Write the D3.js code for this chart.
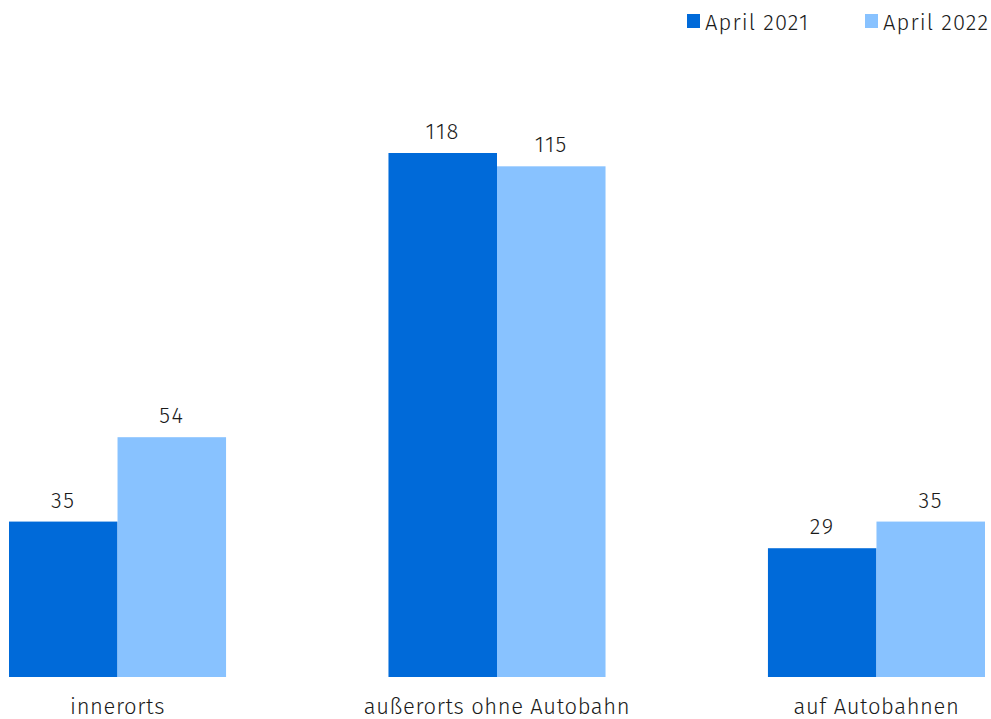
<!DOCTYPE html>
<html><head><meta charset="utf-8">
<script src="https://cdn.jsdelivr.net/npm/d3@7"></script>
<style>body{margin:0;background:#fff}svg{display:block}text{font-family:"Fira Sans","Noto Sans",sans-serif;fill:#1a1a1a;font-weight:300}</style>
</head><body>
<script>
const categories = ["innerorts", "außerorts ohne Autobahn", "auf Autobahnen"];
const seriesNames = ["April 2021", "April 2022"];
const values2021 = [35, 118, 29];
const values2022 = [54, 115, 35];
const colors = ["#006ad9", "#88c2ff"];

const W = 991, H = 719;
const svg = d3.select("body").append("svg").attr("width", W).attr("height", H);
const data = categories.map((c, i) => ({cat: c, vals: [values2021[i], values2022[i]]}));

const x0 = d3.scaleBand().domain(categories).range([9, 985]).paddingInner(0.428).paddingOuter(0);
const x1 = d3.scaleBand().domain(seriesNames).range([0, x0.bandwidth()]).padding(0);
const y = d3.scaleLinear().domain([0, 118]).range([677, 153]);

const FS = 22;
const g = svg.append("g");
const groups = g.selectAll("g.grp").data(data).enter().append("g")
  .attr("transform", d => `translate(${x0(d.cat)},0)`);
groups.selectAll("rect").data(d => d.vals.map((v, i) => ({v, s: seriesNames[i], i})))
  .enter().append("rect")
  .attr("x", d => x1(d.s)).attr("width", x1.bandwidth())
  .attr("y", d => y(d.v)).attr("height", d => y(0) - y(d.v))
  .attr("fill", d => colors[d.i]);
groups.selectAll("text.val").data(d => d.vals.map((v, i) => ({v, s: seriesNames[i]})))
  .enter().append("text").attr("class", "val")
  .attr("x", d => x1(d.s) + x1.bandwidth() / 2).attr("y", d => y(d.v) - 14)
  .attr("text-anchor", "middle").attr("font-size", FS).attr("letter-spacing", 1.5).text(d => d.v);

const xAxis = d3.axisBottom(x0).tickSize(0).tickPadding(0);
const ax = svg.append("g").attr("transform", "translate(0,677)").call(xAxis);
ax.select(".domain").remove();
ax.selectAll("text").attr("font-size", FS).attr("dy", null).attr("y", 37)
  .attr("letter-spacing", 0.6)
  .style("font-family", '"Fira Sans","Noto Sans",sans-serif').style("font-weight", 300).attr("fill", "#1a1a1a");

const legendX = [687, 865];
const leg = svg.append("g");
seriesNames.forEach((s, i) => {
  leg.append("rect").attr("x", legendX[i]).attr("y", 14).attr("width", 13).attr("height", 14).attr("fill", colors[i]);
  leg.append("text").attr("x", legendX[i] + 18).attr("y", 30).attr("font-size", FS).attr("letter-spacing", 1.1).text(s);
});
</script>
</body></html>
